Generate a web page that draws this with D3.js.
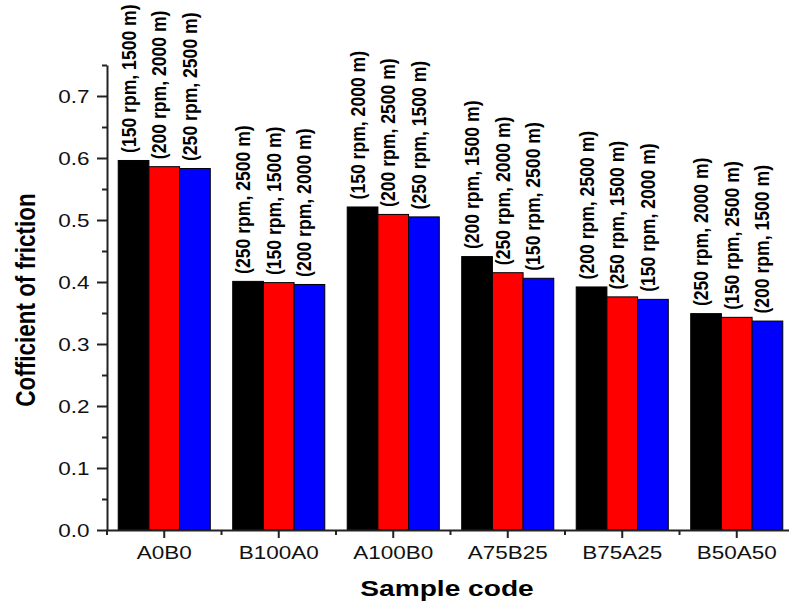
<!DOCTYPE html>
<html>
<head>
<meta charset="utf-8">
<script src="https://cdn.jsdelivr.net/npm/d3@7"></script>
<style>
    body { margin: 0; background: #fff; }
    text { font-family: "Liberation Sans", Arial, sans-serif; }
</style>
</head>
<body>
<svg width="789" height="608"></svg>
<script>
var categories = ["A0B0", "B100A0", "A100B0", "A75B25", "B75A25", "B50A50"];
var seriesKeys = ["s1", "s2", "s3"];
var seriesColors = ["#000000", "#ff0000", "#0000ff"];

// Cofficient of friction, one array per bar position in each group
var series1 = [0.596, 0.401, 0.521, 0.441, 0.392, 0.349];
var series2 = [0.586, 0.399, 0.509, 0.415, 0.376, 0.343];
var series3 = [0.583, 0.396, 0.505, 0.406, 0.372, 0.337];

var barLabels = [
    ["(150 rpm, 1500 m)", "(200 rpm, 2000 m)", "(250 rpm, 2500 m)"],
    ["(250 rpm, 2500 m)", "(150 rpm, 1500 m)", "(200 rpm, 2000 m)"],
    ["(150 rpm, 2000 m)", "(200 rpm, 2500 m)", "(250 rpm, 1500 m)"],
    ["(200 rpm, 1500 m)", "(250 rpm, 2000 m)", "(150 rpm, 2500 m)"],
    ["(200 rpm, 2500 m)", "(250 rpm, 1500 m)", "(150 rpm, 2000 m)"],
    ["(250 rpm, 2000 m)", "(150 rpm, 2500 m)", "(200 rpm, 1500 m)"],
];

var yMajorTicks = [0, 0.1, 0.2, 0.3, 0.4, 0.5, 0.6, 0.7];
var yMinorTicks = [0.05, 0.15, 0.25, 0.35, 0.45, 0.55, 0.65, 0.75];

var seriesValues = [series1, series2, series3];
var rows = categories.map((c, i) => ({
    cat: c,
    bars: seriesKeys.map((k, j) => ({ key: k, value: seriesValues[j][i], label: barLabels[i][j], color: seriesColors[j] }))
}));

var svg = d3.select("svg");
var stretch = 1.25;

var x0 = d3.scaleBand().domain(categories).range([107, 794]);
var x1 = d3.scaleBand().domain(seriesKeys).range([x0.step() * 0.098, x0.step() * 0.902]);
var y = d3.scaleLinear().domain([0, 0.75]).range([530, 65]);

// Bars
var groups = svg.selectAll("g.group")
    .data(rows)
    .join("g")
    .attr("class", "group")
    .attr("transform", d => "translate(" + x0(d.cat) + ",0)");

groups.selectAll("rect")
    .data(d => d.bars)
    .join("rect")
    .attr("x", d => x1(d.key))
    .attr("y", d => y(d.value))
    .attr("width", x1.bandwidth())
    .attr("height", d => y(0) - y(d.value))
    .attr("fill", d => d.color)
    .attr("stroke", "#000")
    .attr("stroke-width", 1);

// Rotated labels above bars
groups.selectAll("text")
    .data(d => d.bars)
    .join("text")
    .attr("transform", d => "translate(" + (x1(d.key) + x1.bandwidth() / 2 + 2) + "," + (y(d.value) - 7.5) + ") scale(1.12,1) rotate(-90)")
    .attr("font-size", 17.6)
    .attr("font-weight", "bold")
    .attr("fill", "#000")
    .text(d => d.label);

// Y axis
var yAxis = svg.append("g")
    .attr("transform", "translate(107,0)")
    .call(d3.axisLeft(y).tickValues(yMajorTicks).tickFormat(d3.format(".1f")).tickSize(10).tickSizeOuter(0));
yAxis.selectAll("text")
    .attr("x", -17.5 / stretch)
    .attr("dy", "0.35em")
    .attr("transform", "scale(" + stretch + ",1)")
    .attr("font-size", 18)
    .attr("fill", "#111");

svg.append("g")
    .attr("transform", "translate(107,0)")
    .call(d3.axisLeft(y).tickValues(yMinorTicks).tickFormat("").tickSize(5))
    .call(g => g.select(".domain").remove());

// X axis
var xAxis = svg.append("g")
    .attr("transform", "translate(0,530)")
    .call(d3.axisBottom(x0).tickSize(8).tickSizeOuter(0));
xAxis.selectAll("text")
    .attr("y", 29)
    .attr("dy", 0)
    .attr("transform", "scale(" + stretch + ",1)")
    .attr("font-size", 18)
    .attr("fill", "#111");

svg.append("g")
    .attr("transform", "translate(0,530)")
    .selectAll("line")
    .data(categories)
    .join("line")
    .attr("x1", d => x0(d))
    .attr("x2", d => x0(d))
    .attr("y1", 0)
    .attr("y2", 5);

svg.selectAll(".domain, .tick line, g line")
    .attr("stroke", "#222")
    .attr("stroke-width", 2);

// Axis titles
svg.append("text")
    .attr("transform", "translate(447,596) scale(" + stretch + ",1)")
    .attr("text-anchor", "middle")
    .attr("font-size", 22.5)
    .attr("font-weight", "bold")
    .text("Sample code");

svg.append("text")
    .attr("transform", "translate(35,300) scale(" + stretch + ",1) rotate(-90)")
    .attr("text-anchor", "middle")
    .attr("font-size", 22.5)
    .attr("font-weight", "bold")
    .text("Cofficient of friction");
</script>
</body>
</html>
